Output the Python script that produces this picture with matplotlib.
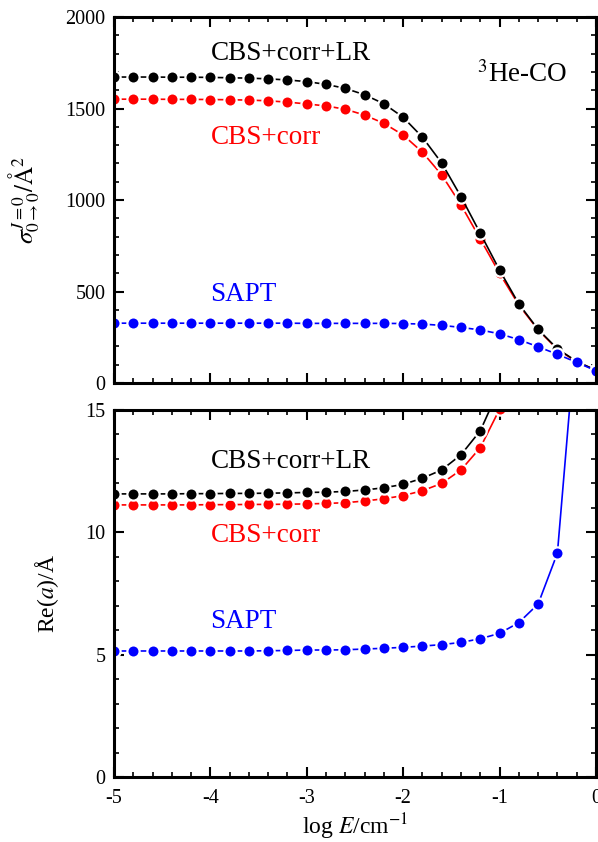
import numpy as np
import matplotlib
matplotlib.use('Agg')
import matplotlib.pyplot as plt

plt.rcParams['font.family'] = ['Liberation Serif', 'DejaVu Serif']
plt.rcParams['mathtext.fontset'] = 'stix'
plt.rcParams['axes.unicode_minus'] = False

# log E grid (cm^-1)
log_e = [-5.0, -4.8, -4.6, -4.4, -4.2, -4.0, -3.8, -3.6, -3.4, -3.2,
         -3.0, -2.8, -2.6, -2.4, -2.2, -2.0, -1.8, -1.6, -1.4, -1.2,
         -1.0, -0.8, -0.6, -0.4, -0.2, 0.0]

# cross sections, A^2
sig_lr = [1672, 1672, 1672, 1671, 1671, 1670, 1668, 1666, 1662, 1656,
          1647, 1632, 1610, 1575, 1526, 1452, 1343, 1202, 1018, 818,
          617, 432, 293, 187, 118, 70]
sig_corr = [1551, 1551, 1551, 1550, 1550, 1549, 1548, 1546, 1542, 1535,
            1525, 1514, 1496, 1464, 1419, 1355, 1261, 1137, 973, 787,
            599, 426, 290, 184, 116, 69]
sig_sapt = [327, 327, 327, 327, 327, 327, 327, 327, 327, 327,
            326, 326, 326, 326, 326, 325, 322, 315, 304, 290,
            269, 237, 198, 157, 113, 67]

# Re(a), A
a_lr = [11.57, 11.57, 11.57, 11.57, 11.58, 11.58, 11.59, 11.59, 11.60, 11.61,
        11.63, 11.64, 11.67, 11.73, 11.82, 11.96, 12.21, 12.55, 13.17, 14.15,
        15.9]
a_corr = [11.12, 11.12, 11.12, 11.12, 11.12, 11.13, 11.13, 11.14, 11.14, 11.15,
          11.16, 11.18, 11.21, 11.28, 11.37, 11.50, 11.70, 12.00, 12.55, 13.46,
          15.03]
a_sapt = [5.15, 5.15, 5.15, 5.15, 5.15, 5.15, 5.15, 5.15, 5.16, 5.17,
          5.19, 5.19, 5.20, 5.23, 5.26, 5.30, 5.35, 5.41, 5.50, 5.65,
          5.87, 6.31, 7.07, 9.15, 18.5]

fig = plt.figure(figsize=(5.98, 8.42), dpi=100)
ax1 = fig.add_axes([0.1906, 0.5451, 0.806, 0.4347])
ax2 = fig.add_axes([0.1906, 0.0772, 0.806, 0.4359])

mk = dict(marker='o', markersize=8.8, markeredgecolor='white',
          markeredgewidth=1.6, linewidth=1.2)


def series(ax, y, color):
    ax.plot(log_e[:len(y)], y, color=color, markerfacecolor=color, **mk)


for ax, data in ((ax1, (sig_corr, sig_lr, sig_sapt)), (ax2, (a_corr, a_lr, a_sapt))):
    for y, c in zip(data, ('red', 'black', 'blue')):
        series(ax, y, c)
    ax.set_xlim(-5, 0)
    ax.set_xticks([-5, -4, -3, -2, -1, 0])
    ax.set_xticks(np.arange(-5, 0.01, 0.2), minor=True)
    ax.tick_params(which='both', direction='in', top=True, right=True,
                   labelsize=14.5)
    ax.tick_params(which='major', length=7, width=1.5)
    ax.tick_params(which='minor', length=3.6, width=1.2)
    ax.tick_params(axis='x', pad=9)
    ax.tick_params(axis='y', pad=6)
    for s in ax.spines.values():
        s.set_linewidth(2.2)

ax1.set_ylim(0, 2000)
ax1.set_yticks([0, 500, 1000, 1500, 2000])
ax1.set_yticks(np.arange(0, 2001, 100), minor=True)
ax1.tick_params(axis='x', labelbottom=False)
ax1.set_ylabel(r'$\sigma_{0\rightarrow0}^{J=0}/\mathrm{\AA}^{2}$', fontsize=18)
ax1.yaxis.set_label_coords(-0.15, 0.5)

ax2.set_ylim(0, 15)
ax2.set_yticks([0, 5, 10, 15])
ax2.set_yticks(np.arange(0, 15.1, 1), minor=True)
ax2.set_ylabel(r'Re($\it{a}$)/Å', fontsize=17)
ax2.yaxis.set_label_coords(-0.11, 0.5)
ax2.set_xlabel(r'log $\it{E}$/cm$^{-1}$', fontsize=17, labelpad=2)

ax1.text(-4.0, 1803, 'CBS+corr+LR', color='black', fontsize=19.5, va='center')
ax1.text(-4.0, 1344, 'CBS+corr', color='red', fontsize=19.5, va='center')
ax1.text(-4.0, 486, 'SAPT', color='blue', fontsize=19.5, va='center')
ax1.text(-1.23, 1683, r'$^{3}$He-CO', color='black', fontsize=19.5, va='center')

ax2.text(-4.0, 12.89, 'CBS+corr+LR', color='black', fontsize=19.5, va='center')
ax2.text(-4.0, 9.89, 'CBS+corr', color='red', fontsize=19.5, va='center')
ax2.text(-4.0, 6.35, 'SAPT', color='blue', fontsize=19.5, va='center')

fig.savefig('out.png', dpi=100)
